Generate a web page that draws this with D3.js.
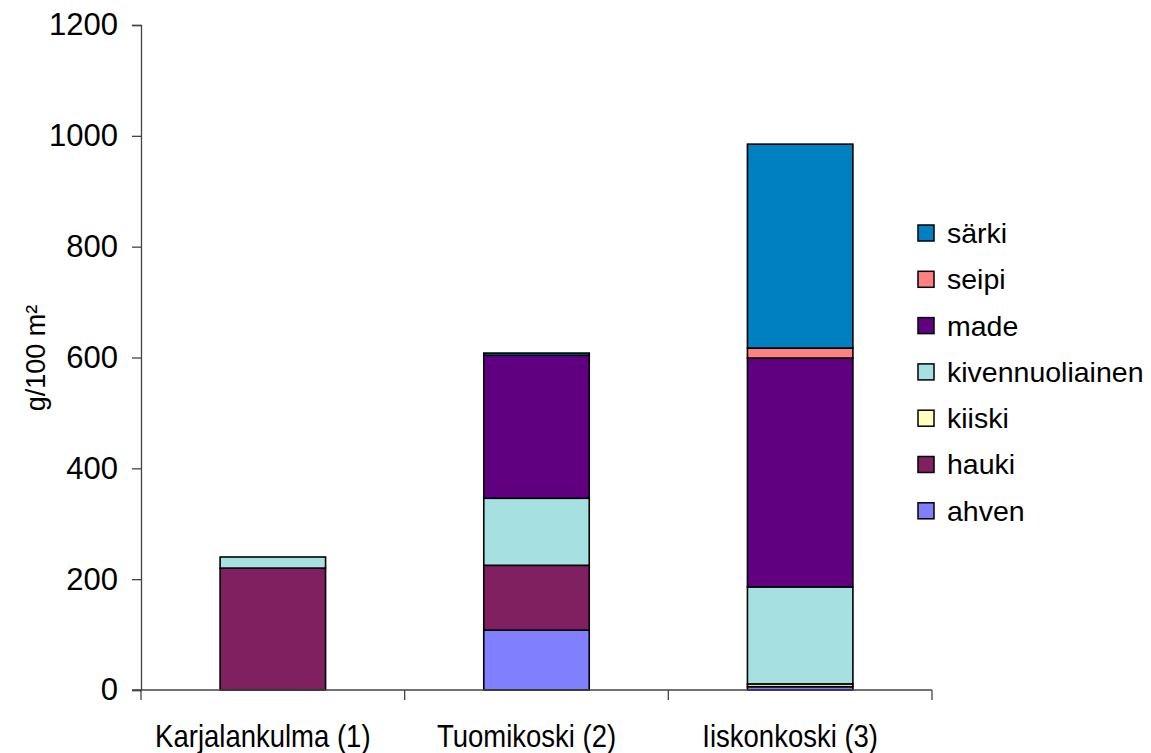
<!DOCTYPE html>
<html>
<head>
<meta charset="utf-8">
<script src="https://cdn.jsdelivr.net/npm/d3@7"></script>
<style>
  html, body { margin: 0; padding: 0; background: #fff; }
  text { font-family: "Liberation Sans", Arial, sans-serif; fill: #000; }
</style>
</head>
<body>
<svg id="chart" width="1151" height="753"></svg>
<script>
// Sampling sites
const sites = ["Karjalankulma (1)", "Tuomikoski (2)", "Iiskonkoski (3)"];

// Species, stacked bottom to top
const species = ["ahven", "hauki", "kiiski", "kivennuoliainen", "made", "seipi", "särki"];
const speciesColors = ["#8080FF", "#802060", "#FFFFC0", "#A6E0E0", "#600080", "#FF8080", "#0080C0"];

// Biomass per species (g/100 m²), one value per site
const ahven           = [0, 108, 6];
const hauki           = [220, 117, 0];
const kiiski          = [0, 0, 5];
const kivennuoliainen = [20, 121, 175];
const made            = [0, 258, 413];
const seipi           = [0, 0, 18];
const sarki           = [0, 4, 368];

const yTicks = [0, 200, 400, 600, 800, 1000, 1200];
const yTitle = "g/100 m²";

const seriesValues = [ahven, hauki, kiiski, kivennuoliainen, made, seipi, sarki];
const rows = sites.map((s, i) => {
  const r = { site: s };
  species.forEach((sp, j) => { r[sp] = seriesValues[j][i]; });
  return r;
});

const svg = d3.select("#chart");
const plot = { left: 141, right: 932, top: 25, bottom: 690 };

const x = d3.scaleBand().domain(sites).range([plot.left, plot.right]).paddingInner(0).paddingOuter(0);
const y = d3.scaleLinear().domain([0, 1200]).range([plot.bottom, plot.top]);
const color = d3.scaleOrdinal().domain(species).range(speciesColors);

const stacked = d3.stack().keys(species)(rows);
const barW = x.bandwidth() * 0.4;

// Stacked bars
const layers = svg.append("g").selectAll("g").data(stacked).join("g")
  .attr("fill", d => color(d.key));
layers.selectAll("rect").data(d => d.filter(v => v[1] - v[0] > 0)).join("rect")
  .attr("x", d => x(d.data.site) + (x.bandwidth() - barW) / 2)
  .attr("width", barW)
  .attr("y", d => y(d[1]))
  .attr("height", d => y(d[0]) - y(d[1]))
  .attr("stroke", "#000")
  .attr("stroke-width", 1.6);

// Y axis
const yAxis = svg.append("g")
  .attr("transform", `translate(${plot.left},0)`)
  .call(d3.axisLeft(y).tickValues(yTicks).tickSize(9).tickPadding(14).tickFormat(d3.format("d")));
yAxis.select(".domain").attr("stroke", "#444").attr("stroke-width", 1.3);
yAxis.selectAll(".tick line").attr("stroke", "#444").attr("stroke-width", 1.3);
yAxis.selectAll(".tick text").attr("font-size", 31).attr("font-family", "Liberation Sans, Arial, sans-serif");

// X axis with ticks on category boundaries
const xAxisG = svg.append("g").attr("transform", `translate(0,${plot.bottom})`);
xAxisG.append("line")
  .attr("x1", plot.left - 9).attr("x2", plot.right)
  .attr("stroke", "#444").attr("stroke-width", 1.3);
const bounds = sites.map(s => x(s)).concat([x(sites[sites.length - 1]) + x.bandwidth()]);
xAxisG.selectAll("line.bt").data(bounds).join("line")
  .attr("class", "bt")
  .attr("x1", d => d).attr("x2", d => d)
  .attr("y1", 0).attr("y2", 10)
  .attr("stroke", "#444").attr("stroke-width", 1.3);
xAxisG.selectAll("text").data(sites).join("text")
  .attr("transform", d => `translate(${x(d) + x.bandwidth() / 2 - 10},57) scale(1,1.15)`)
  .attr("text-anchor", "middle")
  .attr("font-size", 27.5)
  .text(d => d);

// Y title
svg.append("text")
  .attr("transform", "translate(45,358) rotate(-90)")
  .attr("text-anchor", "middle")
  .attr("font-size", 27)
  .text(yTitle);

// Legend, top species first
const legend = svg.append("g").attr("transform", "translate(918,225)");
const legItems = legend.selectAll("g").data(species.slice().reverse()).join("g")
  .attr("transform", (d, i) => `translate(0,${i * 46.3})`);
legItems.append("rect")
  .attr("width", 16).attr("height", 16)
  .attr("fill", d => color(d))
  .attr("stroke", "#000").attr("stroke-width", 1.5);
legItems.append("text")
  .attr("x", 29).attr("y", 8)
  .attr("dy", "0.35em")
  .attr("font-size", 28.5)
  .text(d => d);
</script>
</body>
</html>
